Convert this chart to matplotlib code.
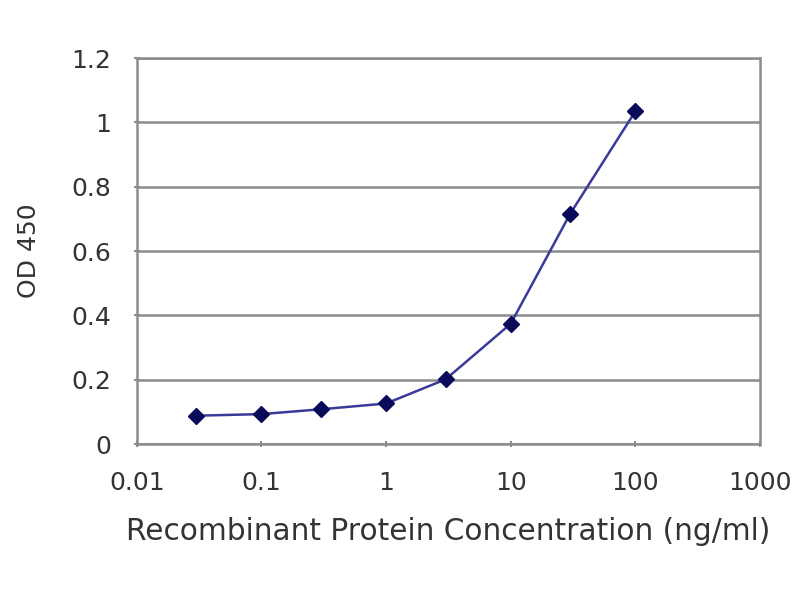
import matplotlib
matplotlib.use("Agg")
import matplotlib.pyplot as plt

# concentration (ng/ml) and OD 450 readings
conc = [0.03, 0.1, 0.3, 1, 3, 10, 30, 100]
od450 = [0.088, 0.093, 0.108, 0.126, 0.201, 0.374, 0.716, 1.035]

x_ticks = [0.01, 0.1, 1, 10, 100, 1000]
x_tick_labels = ["0.01", "0.1", "1", "10", "100", "1000"]
y_ticks = [0, 0.2, 0.4, 0.6, 0.8, 1.0, 1.2]
y_tick_labels = ["0", "0.2", "0.4", "0.6", "0.8", "1", "1.2"]

plt.rcParams['font.family'] = ['DejaVu Sans']
text_col = '#333333'
grid_col = '#8c8c8c'

fig = plt.figure(figsize=(8, 6), dpi=100)
ax = fig.add_axes([0.171, 0.26, 0.779, 0.643])

ax.plot(conc, od450, color='#3a3a9a', linewidth=1.8,
        marker='D', markersize=8, markerfacecolor='#0a0a5a',
        markeredgecolor='#0a0a5a', zorder=3)

ax.set_xscale('log')
ax.set_xlim(0.01, 1000)
ax.set_ylim(0, 1.2)
ax.set_xticks(x_ticks)
ax.set_xticklabels(x_tick_labels)
ax.minorticks_off()
ax.set_yticks(y_ticks)
ax.set_yticklabels(y_tick_labels)

ax.yaxis.grid(True, color=grid_col, linewidth=1.8)
ax.set_axisbelow(True)
for side in ax.spines:
    ax.spines[side].set_color(grid_col)
    ax.spines[side].set_linewidth(1.8)

ax.tick_params(axis='both', colors=grid_col, labelcolor=text_col,
               labelsize=18, direction='inout', length=5, width=1.5)
ax.tick_params(axis='x', pad=17)
ax.tick_params(axis='y', pad=16)

ax.set_xlabel('Recombinant Protein Concentration (ng/ml)', fontsize=21.3,
              color=text_col, labelpad=16)
ax.set_ylabel('OD 450', fontsize=18, color=text_col, labelpad=22)

fig.savefig('out.png', dpi=100, facecolor='white')
